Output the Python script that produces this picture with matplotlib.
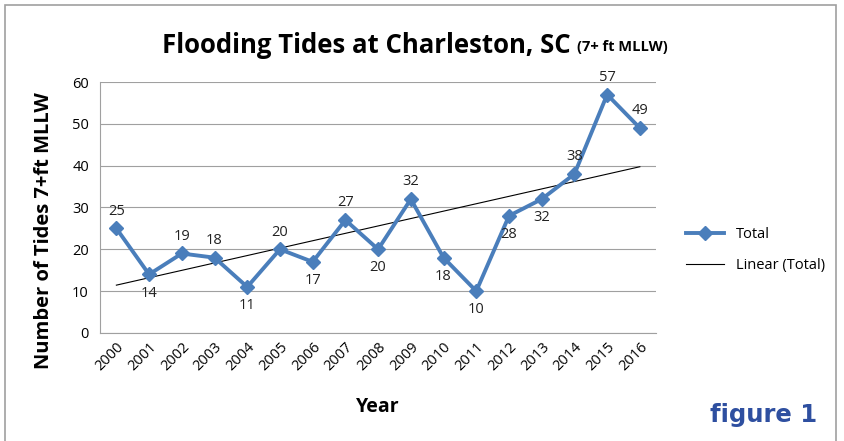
import numpy as np
import matplotlib.pyplot as plt
from matplotlib.patches import Rectangle

# 데이터
years = [str(y) for y in range(2000, 2017)]
totals = [25, 14, 19, 18, 11, 20, 17, 27, 20, 32, 18, 10, 28, 32, 38, 57, 49]
# 라벨 위치 (위 / 아래)
label_above = [True, False, True, True, False, True, False, True, False, True,
               False, False, False, False, True, True, True]

plt.rcParams['font.family'] = ['Open Sans', 'DejaVu Sans']

fig = plt.figure(figsize=(8.44, 4.41), dpi=100)
ax = fig.add_axes([0.1185, 0.245, 0.659, 0.569])

x = np.arange(len(years))
blue = '#4A7EBB'
ax.plot(x, totals, color=blue, lw=2.8, marker='D', ms=7, label='Total', zorder=3)

# 선형 추세선
k, b = np.polyfit(x, totals, 1)
ax.plot(x, k * x + b, color='black', lw=0.8, label='Linear (Total)', zorder=2)

for xi, v, up in zip(x, totals, label_above):
    ax.annotate(str(v), (xi, v), xytext=(0, 7 if up else -8), textcoords='offset points',
                ha='center', va='bottom' if up else 'top', fontsize=10.5, color='#222222')

ax.set_xlim(-0.5, len(years) - 0.5)
ax.set_ylim(0, 60)
ax.set_yticks(range(0, 61, 10))
ax.set_xticks(x)
ax.set_xticklabels(years, rotation=45, ha='right', rotation_mode='anchor', fontsize=10.5)
ax.tick_params(axis='y', labelsize=10.5, length=0, pad=8)
ax.tick_params(axis='x', length=0, pad=5)
ax.yaxis.grid(True, color='#A0A0A0', lw=0.8)
ax.set_axisbelow(True)
for s in ['top', 'right']:
    ax.spines[s].set_visible(False)
for s in ['left', 'bottom']:
    ax.spines[s].set_color('#A0A0A0')

ax.set_xlabel('Year', fontsize=14, fontweight='bold', labelpad=16)
ax.set_ylabel('Number of Tides 7+ft MLLW', fontsize=14.5, fontweight='bold')
ax.yaxis.set_label_coords(-0.082, 0.41)

fig.text(0.676, 0.897, 'Flooding Tides at Charleston, SC', fontsize=18.5, fontweight='bold',
         ha='right', va='center')
fig.text(0.684, 0.893, '(7+ ft MLLW)', fontsize=10.5, fontweight='bold', ha='left', va='center')

ax.legend(loc='center left', bbox_to_anchor=(1.03, 0.33), frameon=False, fontsize=10.5,
          handlelength=2.6, labelspacing=1.1)

fig.text(0.968, 0.058, 'figure 1', fontsize=17.5, fontweight='bold', color='#2E4FA0',
         ha='right', va='center', family=['DejaVu Sans'])

# 차트 테두리
fig.patches.append(Rectangle((0.006, -0.01), 0.985, 0.998, transform=fig.transFigure,
                             fill=False, edgecolor='#A0A0A0', lw=1.2))

fig.savefig('out.png', dpi=100)
